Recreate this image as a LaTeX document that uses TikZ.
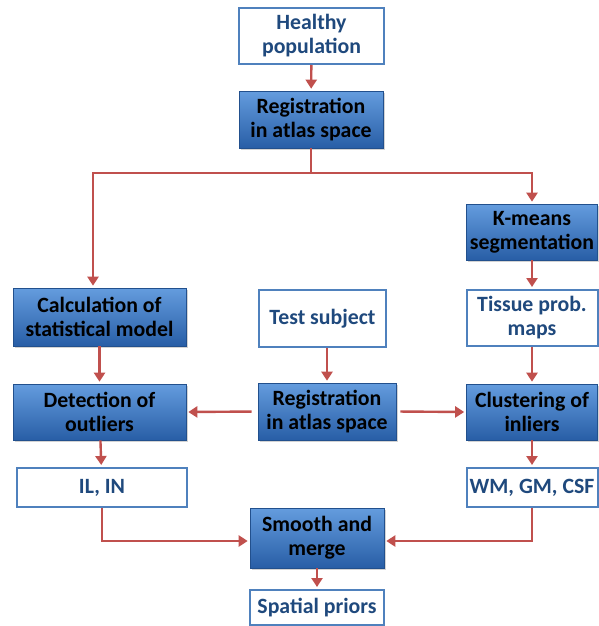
\documentclass[tikz,border=0pt]{standalone}
\usepackage{fontspec}
\setmainfont{Carlito}
\usetikzlibrary{arrows.meta,shadows}
\definecolor{boxblue}{RGB}{79,129,189}
\definecolor{darkblue}{RGB}{31,73,125}
\definecolor{topblue}{RGB}{100,156,222}
\definecolor{botblue}{RGB}{40,94,166}
\definecolor{flowred}{RGB}{192,80,77}
\tikzset{
  boxfont/.style={font=\bfseries\fontsize{21.8}{24}\selectfont},
  whitebox/.style={boxfont, draw=boxblue, line width=2pt, fill=white, text=darkblue, align=center, inner sep=0pt},
  bluebox/.style={boxfont, draw=botblue!85!black, line width=0.6pt, top color=topblue, bottom color=botblue, text=black, align=center, inner sep=0pt, drop shadow={opacity=0.35, shadow xshift=1.5pt, shadow yshift=-2pt}},
  flow/.style={draw=flowred, line width=2.4pt, -{Triangle[width=11pt,length=9pt]}, shorten >=2pt},
  joinline/.style={draw=flowred, line width=2.4pt}
}

\begin{document}
\begin{tikzpicture}[x=1pt, y=-1pt]
\useasboundingbox (0,0) rectangle (598,626);
%\draw[help lines, color=gray!30] (0,0) grid[step=50] (598,626);
% top part
\node[whitebox, minimum width=145pt, minimum height=56pt] (healthy) at (311.5,36) {Healthy\\population};
\node[bluebox, minimum width=144pt, minimum height=57pt] (regatlas) at (311,119.5) {Registration\\in atlas space};
\coordinate (split) at (311,173);
% left column
\node[bluebox, minimum width=173pt, minimum height=58pt] (calc) at (99.5,317) {Calculation of\\statistical model};
\node[bluebox, minimum width=173pt, minimum height=56pt] (detect) at (99.5,412) {Detection of\\outliers};
\node[whitebox, minimum width=170pt, minimum height=39pt] (ilin) at (102,487.5) {IL, IN};
% middle column
\node[whitebox, minimum width=127pt, minimum height=57pt] (test) at (322.5,318.5) {Test subject};
\node[bluebox, minimum width=138pt, minimum height=57pt] (regtest) at (327,411.5) {Registration\\in atlas space};
\node[bluebox, minimum width=134pt, minimum height=60pt] (smooth) at (317,538) {Smooth and\\merge};
\node[whitebox, minimum width=134pt, minimum height=35pt] (spatial) at (317,607.5) {Spatial priors};
% right column
\node[bluebox, minimum width=131pt, minimum height=56pt] (kmeans) at (532,232) {K-means\\segmentation};
\node[whitebox, minimum width=131pt, minimum height=56pt] (tissue) at (532,318) {Tissue prob.\\maps};
\node[bluebox, minimum width=131pt, minimum height=56pt] (cluster) at (532,412) {Clustering of\\inliers};
\node[whitebox, minimum width=131pt, minimum height=39pt] (wmgm) at (532,487.5) {WM, GM, CSF};
% connectors
\draw[flow] (healthy) -- (regatlas);
\draw[joinline] (regatlas.south) -- (split);
\draw[flow] (split) -| ([xshift=-6.5pt]calc.north);
\draw[flow] (split) -| (kmeans.north);
\draw[flow] (calc) -- (detect);
\draw[flow] (detect) -- (ilin);
\draw[flow] (test.south -| regtest.north) -- (regtest.north);
\draw[flow, shorten <=6pt] (regtest.west) -- (detect.east);
\draw[flow, shorten <=4pt] (regtest.east) -- (cluster.west);
\draw[flow] (kmeans) -- (tissue);
\draw[flow] (tissue) -- (cluster);
\draw[flow] (cluster) -- (wmgm);
\draw[flow] (ilin.south) |- ([yshift=-3pt]smooth.west);
\draw[flow] (wmgm.south) |- ([yshift=-3pt]smooth.east);
\draw[flow] (smooth) -- (spatial);
\end{tikzpicture}
\end{document}
